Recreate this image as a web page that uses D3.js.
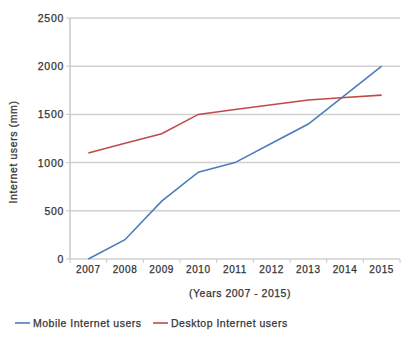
<!DOCTYPE html>
<html><head><meta charset="utf-8">
<script src="https://cdn.jsdelivr.net/npm/d3@7"></script>
<style>
body{margin:0;background:#fff;}
text{font-family:"Liberation Sans",Arial,sans-serif;fill:#333;stroke:#333;stroke-width:0.25px;}
</style></head>
<body><svg id="c" width="417" height="337"></svg>
<script>
const years = ["2007","2008","2009","2010","2011","2012","2013","2014","2015"];
const mobile = [0,200,600,900,1000,1200,1400,1700,2000];
const desktop = [1100,1200,1300,1500,1550,1600,1650,1675,1700];
const yTicks = [0,500,1000,1500,2000,2500];
const seriesNames = ["Mobile Internet users","Desktop Internet users"];
const colors = ["#4a7ebb","#be4b48"];

const svg = d3.select("#c");
const L=70,R=400,T=18,B=259;
const x = d3.scaleBand().domain(years).range([L,R]);
const y = d3.scaleLinear().domain([0,2500]).range([B,T]);

svg.append("g").selectAll("line").data(yTicks).join("line")
  .attr("x1",L).attr("x2",R).attr("y1",d=>y(d)).attr("y2",d=>y(d))
  .attr("stroke","#d0d0d0").attr("stroke-width",1.5);
svg.append("line").attr("x1",L).attr("x2",L).attr("y1",T).attr("y2",B).attr("stroke","#c8c8c8").attr("stroke-width",1.5);
svg.append("g").selectAll("line").data(yTicks).join("line")
  .attr("x1",L-4).attr("x2",L).attr("y1",d=>y(d)).attr("y2",d=>y(d)).attr("stroke","#c8c8c8");
svg.append("g").selectAll("text").data(yTicks).join("text")
  .attr("x",L-6).attr("y",d=>y(d)+4).attr("text-anchor","end")
  .attr("font-size",10.5).attr("letter-spacing",0.7).text(d=>d);
const bounds = years.map(d=>x(d)).concat([R]);
svg.append("g").selectAll("line").data(bounds).join("line")
  .attr("x1",d=>d).attr("x2",d=>d).attr("y1",B).attr("y2",B+4).attr("stroke","#c8c8c8");
svg.append("g").selectAll("text").data(years).join("text")
  .attr("x",d=>x(d)+x.bandwidth()/2).attr("y",B+14).attr("text-anchor","middle")
  .attr("font-size",10).attr("letter-spacing",0.6).text(d=>d);

const line = d3.line().x((d,i)=>x(years[i])+x.bandwidth()/2).y(d=>y(d));
[mobile,desktop].forEach((s,k)=>{
  svg.append("path").datum(s).attr("d",line).attr("fill","none")
    .attr("stroke",colors[k]).attr("stroke-width",1.6);
});

svg.append("text").attr("transform","translate(17,152) rotate(-90)")
  .attr("text-anchor","middle").attr("font-size",10.5).attr("letter-spacing",0.6).text("Internet users (mm)");
svg.append("text").attr("x",240).attr("y",297).attr("text-anchor","middle")
  .attr("font-size",10.5).attr("letter-spacing",0.5).text("(Years 2007 - 2015)");

const legX=[15,153];
seriesNames.forEach((n,k)=>{
  svg.append("line").attr("x1",legX[k]).attr("x2",legX[k]+15).attr("y1",323).attr("y2",323)
    .attr("stroke",colors[k]).attr("stroke-width",1.6);
  svg.append("text").attr("x",legX[k]+18).attr("y",327).attr("font-size",10.5).attr("letter-spacing",0.5).text(n);
});
</script></body></html>
